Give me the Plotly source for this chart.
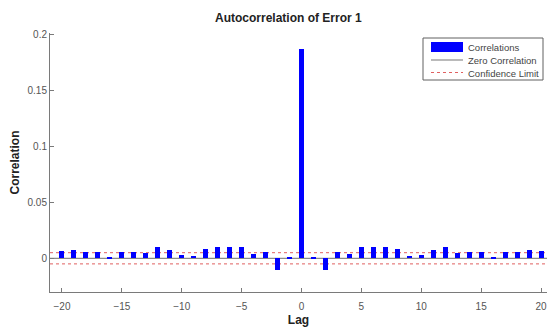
import plotly.graph_objects as go

lags = list(range(-20, 21))
corr_pos = [0.187, 0.001, -0.0104, 0.0054, 0.0035, 0.0104, 0.0098, 0.0105, 0.0082, 0.002,
            0.0032, 0.0072, 0.0097, 0.0045, 0.0057, 0.006, 0.0003, 0.0057, 0.0056, 0.0074, 0.0067]
# autocorrelation is symmetric in lag
correlations = corr_pos[:0:-1] + corr_pos
conf_limit = 0.005
x_ticks = [-20, -15, -10, -5, 0, 5, 10, 15, 20]
y_ticks = [0, 0.05, 0.1, 0.15, 0.2]
y_tick_text = ["0", "0.05", "0.1", "0.15", "0.2"]

W, H = 547, 329
L, R, T, B = 50, 0, 33, 37
PW, PH = W - L - R, H - T - B

def px(x):
    return (x - L) / PW

def py(y):
    return (H - B - y) / PH

FONT = "Liberation Sans, Arial, Helvetica, sans-serif"
AX = "#7a7a7a"

fig = go.Figure()
fig.add_trace(go.Bar(x=lags, y=correlations, width=0.42,
                     marker=dict(color="#0000ff", line=dict(width=0)),
                     showlegend=False))

shapes = [
    dict(type="line", xref="paper", yref="y", x0=0, x1=1, y0=0, y1=0,
         line=dict(color="#8c8c8c", width=1.2), layer="below"),
    dict(type="line", xref="paper", yref="y", x0=0, x1=1, y0=conf_limit, y1=conf_limit,
         line=dict(color="#e06060", width=1, dash="dot"), layer="below"),
    dict(type="line", xref="paper", yref="y", x0=0, x1=1, y0=-conf_limit, y1=-conf_limit,
         line=dict(color="#e06060", width=1, dash="dot"), layer="below"),
    # legend box
    dict(type="rect", xref="paper", yref="paper", x0=px(423), x1=px(543), y0=py(80), y1=py(38),
         line=dict(color="#606060", width=1), fillcolor="white"),
    dict(type="rect", xref="paper", yref="paper", x0=px(431), x1=px(463), y0=py(52), y1=py(42),
         line=dict(width=0), fillcolor="#0000ff"),
    dict(type="line", xref="paper", yref="paper", x0=px(431), x1=px(463), y0=py(60), y1=py(60),
         line=dict(color="#8c8c8c", width=1.2)),
    dict(type="line", xref="paper", yref="paper", x0=px(431), x1=px(463), y0=py(72.5), y1=py(72.5),
         line=dict(color="#e06060", width=1, dash="dot")),
]

annotations = [
    dict(text="<b>Autocorrelation of Error 1</b>", xref="paper", yref="paper",
         x=px(288), y=py(18), showarrow=False, font=dict(size=12, color="#222", family=FONT),
         xanchor="center", yanchor="middle"),
]
for label, yy in [("Correlations", 47), ("Zero Correlation", 60.5), ("Confidence Limit", 73)]:
    annotations.append(dict(text=label, xref="paper", yref="paper", x=px(466), y=py(yy),
                            showarrow=False, xanchor="left", yanchor="middle",
                            font=dict(size=9.5, color="#444", family=FONT)))

fig.update_layout(
    width=W, height=H,
    margin=dict(l=L, r=R, t=T, b=B, pad=0, autoexpand=False),
    paper_bgcolor="white", plot_bgcolor="white",
    font=dict(family=FONT, size=10, color="#555"),
    shapes=shapes, annotations=annotations,
    bargap=0,
    xaxis=dict(range=[-21, 20.5], tickvals=x_ticks, ticks="inside", ticklen=4,
               tickcolor=AX, showline=True, linecolor=AX, linewidth=1, showgrid=False,
               zeroline=False, tickfont=dict(size=10, color="#555"), automargin=False,
               ticklabeloverflow="allow", ticklabelstandoff=5,
               title=dict(text="<b>Lag</b>", font=dict(size=12, color="#222"), standoff=4)),
    yaxis=dict(range=[-0.0301, 0.2012], tickvals=y_ticks, ticktext=y_tick_text,
               ticks="inside", ticklen=4, tickcolor=AX, showline=True, linecolor=AX,
               linewidth=1, showgrid=False, zeroline=False, automargin=False,
               tickfont=dict(size=10, color="#555"),
               title=dict(text="<b>Correlation</b>", font=dict(size=12, color="#222"), standoff=5)),
)

fig.write_html("out.html", config={"displayModeBar": False},
               post_script="document.body.style.margin='0';document.body.style.overflow='hidden';")
